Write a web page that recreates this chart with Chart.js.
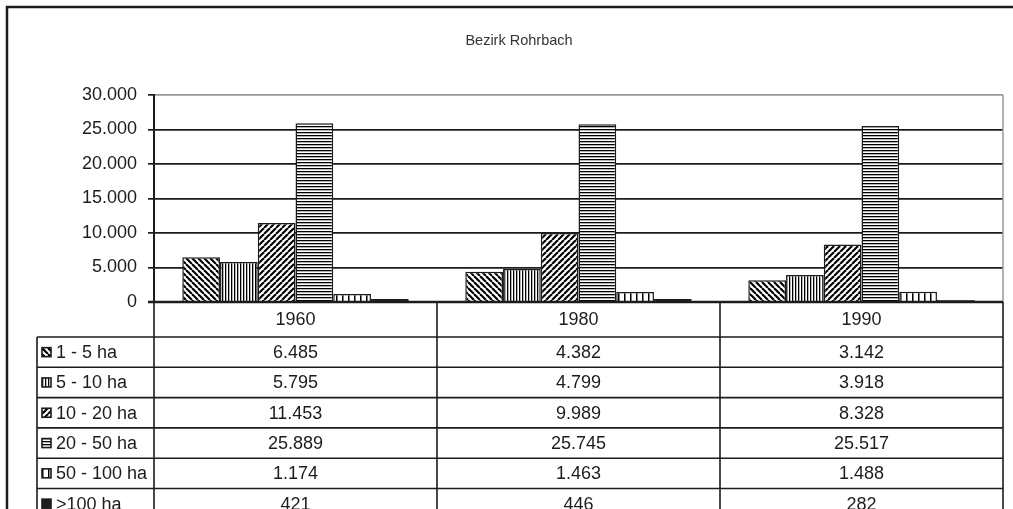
<!DOCTYPE html>
<html>
<head>
<meta charset="utf-8">
<script src="https://cdn.jsdelivr.net/npm/chart.js@4"></script>
<style>
    html, body { margin: 0; padding: 0; background: #fff; }
    #wrap { width: 1013px; height: 509px; position: relative; }
</style>
</head>
<body>
<div id="wrap"><canvas id="chart"></canvas></div>
<script>
const title = 'Bezirk Rohrbach';
const years = ['1960', '1980', '1990'];
const sizeClasses = ['1 - 5 ha', '5 - 10 ha', '10 - 20 ha', '20 - 50 ha', '50 - 100 ha', '>100 ha'];
const ha1to5 = [6485, 4382, 3142];
const ha5to10 = [5795, 4799, 3918];
const ha10to20 = [11453, 9989, 8328];
const ha20to50 = [25889, 25745, 25517];
const ha50to100 = [1174, 1463, 1488];
const haOver100 = [421, 446, 282];
const yTicks = [0, 5000, 10000, 15000, 20000, 25000, 30000];

const seriesValues = [ha1to5, ha5to10, ha10to20, ha20to50, ha50to100, haOver100];
const FONT = '"Liberation Sans", Arial, sans-serif';
const INK = '#1c1c1c';

function fmt(v) {
    return String(v).replace(/\B(?=(\d{3})+(?!\d))/g, '.');
}

// hatch patterns, Excel style
function tile(w, h, draw) {
    const c = document.createElement('canvas');
    c.width = w;
    c.height = h;
    const g = c.getContext('2d');
    g.fillStyle = '#fff';
    g.fillRect(0, 0, w, h);
    g.strokeStyle = '#000';
    g.fillStyle = '#000';
    draw(g, w, h);
    return g.createPattern(c, 'repeat');
}

function diag(forward) {
    return tile(6, 6, (g, s) => {
        g.lineWidth = 2.1;
        for (let k = -1; k <= 1; k++) {
            g.beginPath();
            if (forward) {
                g.moveTo(k * s, s);
                g.lineTo(k * s + s, 0);
            } else {
                g.moveTo(k * s, 0);
                g.lineTo(k * s + s, s);
            }
            g.stroke();
        }
    });
}

const patterns = [
    diag(false),
    tile(3, 3, g => g.fillRect(0, 0, 1.3, 3)),
    diag(true),
    tile(3, 3, g => g.fillRect(0, 0, 3, 1.3)),
    tile(6, 6, g => g.fillRect(0, 0, 1.5, 6)),
    tile(6, 6, g => { g.fillStyle = '#1e1e1e'; g.fillRect(0, 0, 6, 6); })
];

const datasets = sizeClasses.map((name, i) => ({
    label: name,
    data: seriesValues[i],
    backgroundColor: patterns[i],
    borderColor: INK,
    borderWidth: 1.5,
    categoryPercentage: 0.8,
    barPercentage: 1.0
}));

// draws the frame, the plot border and the data table under the axis
const tablePlugin = {
    id: 'dataTable',
    afterDraw(chart) {
        const ctx = chart.ctx;
        const area = chart.chartArea;
        const x = chart.scales.x;
        const bottom = chart.height;
        const step = (area.right - area.left) / years.length;
        const headerH = 35;
        const rowH = 30.3;
        const legendLeft = 37;

        ctx.save();

        // outer frame
        ctx.strokeStyle = INK;
        ctx.lineWidth = 2.5;
        ctx.beginPath();
        ctx.moveTo(7, bottom + 2);
        ctx.lineTo(7, 7);
        ctx.lineTo(chart.width + 2, 7);
        ctx.stroke();

        // gray right border of the plot area
        ctx.strokeStyle = '#999';
        ctx.lineWidth = 1.5;
        ctx.beginPath();
        ctx.moveTo(area.right, area.top);
        ctx.lineTo(area.right, area.bottom);
        ctx.stroke();

        // table lines
        ctx.strokeStyle = INK;
        ctx.lineWidth = 1.6;
        ctx.beginPath();
        for (let c = 0; c <= years.length; c++) {
            const cx = area.left + c * step;
            ctx.moveTo(cx, area.bottom);
            ctx.lineTo(cx, bottom + 2);
        }
        ctx.moveTo(legendLeft, area.bottom + headerH);
        ctx.lineTo(legendLeft, bottom + 2);
        for (let r = 0; r < sizeClasses.length; r++) {
            const ry = area.bottom + headerH + r * rowH;
            ctx.moveTo(legendLeft, ry);
            ctx.lineTo(area.right, ry);
        }
        ctx.stroke();

        // axis line at zero
        ctx.lineWidth = 2.5;
        ctx.beginPath();
        ctx.moveTo(area.left - 6, area.bottom);
        ctx.lineTo(area.right, area.bottom);
        ctx.stroke();

        ctx.font = '18px ' + FONT;
        ctx.fillStyle = INK;
        ctx.textBaseline = 'middle';
        ctx.textAlign = 'center';
        years.forEach((yr, c) => {
            ctx.fillText(yr, x.getPixelForValue(c), area.bottom + headerH / 2 + 1);
        });

        sizeClasses.forEach((name, r) => {
            const cy = area.bottom + headerH + r * rowH + rowH / 2;
            // legend key
            ctx.fillStyle = patterns[r];
            ctx.fillRect(42, cy - 4.5, 9, 9);
            ctx.strokeStyle = INK;
            ctx.lineWidth = 1.6;
            ctx.strokeRect(42, cy - 4.5, 9, 9);
            ctx.fillStyle = INK;
            ctx.textAlign = 'left';
            ctx.fillText(name, 56, cy + 1);
            ctx.textAlign = 'center';
            seriesValues[r].forEach((v, c) => {
                ctx.fillText(fmt(v), x.getPixelForValue(c), cy + 1);
            });
        });

        ctx.restore();
    }
};

const bgPlugin = {
    id: 'bg',
    beforeDraw(chart) {
        const ctx = chart.ctx;
        ctx.save();
        ctx.fillStyle = '#fff';
        ctx.fillRect(0, 0, chart.width, chart.height);
        ctx.restore();
    }
};

new Chart(document.getElementById('chart').getContext('2d'), {
    type: 'bar',
    data: {
        labels: years,
        datasets: datasets
    },
    options: {
        responsive: true,
        maintainAspectRatio: false,
        animation: false,
        layout: {
            padding: { left: 35, right: 10, top: 0, bottom: 207 }
        },
        plugins: {
            legend: { display: false },
            tooltip: { enabled: false },
            title: {
                display: true,
                text: title,
                color: '#333',
                font: { family: FONT, size: 14.5, weight: 'normal', lineHeight: 1.2 },
                padding: { top: 32, bottom: 45.6 }
            }
        },
        scales: {
            x: {
                display: false,
                grid: { display: false }
            },
            y: {
                min: 0,
                max: 30000,
                afterFit: scale => { scale.width = 119; },
                afterBuildTicks: scale => {
                    scale.ticks = yTicks.map(v => ({ value: v }));
                },
                border: { display: true, color: INK, width: 2 },
                grid: {
                    color: c => (c.tick && c.tick.value === 30000 ? '#999' : INK),
                    lineWidth: 1.7,
                    tickColor: INK,
                    tickLength: 6
                },
                ticks: {
                    color: INK,
                    padding: 11,
                    font: { family: FONT, size: 18 },
                    callback: v => fmt(v)
                }
            }
        }
    },
    plugins: [bgPlugin, tablePlugin]
});
</script>
</body>
</html>
